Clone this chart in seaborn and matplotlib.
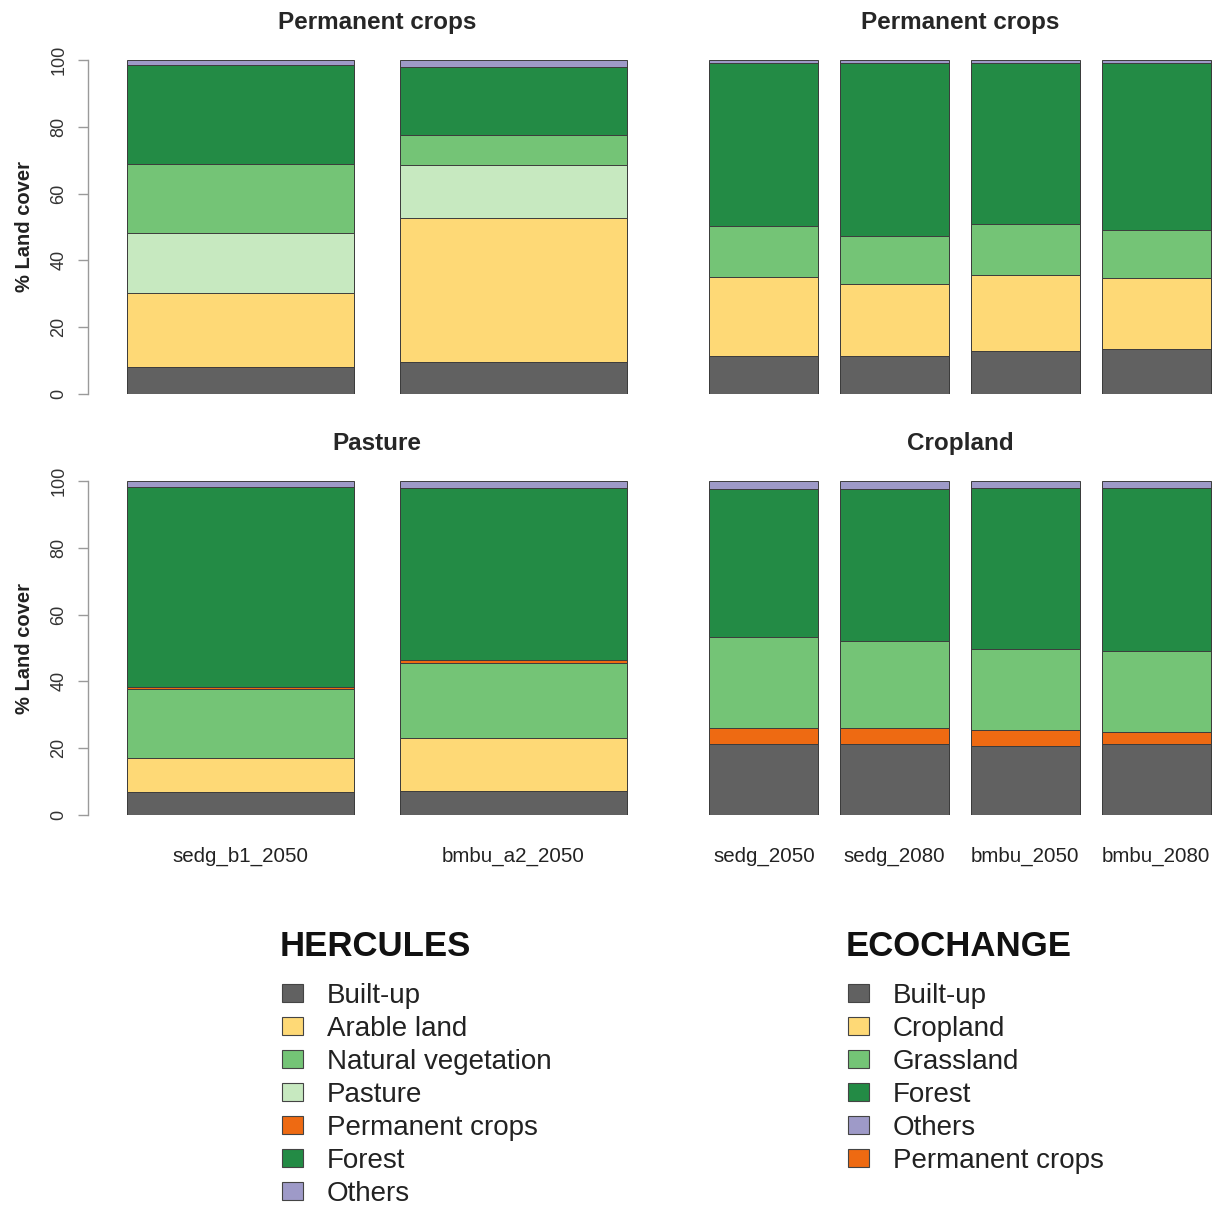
import matplotlib
matplotlib.use("Agg")
import matplotlib.pyplot as plt
from matplotlib.patches import Patch
import numpy as np
import pandas as pd
import seaborn as sns

# ---------------- data ----------------
herc_scenarios = ["sedg_b1_2050", "bmbu_a2_2050"]
eco_scenarios = ["sedg_2050", "sedg_2080", "bmbu_2050", "bmbu_2080"]

# HERCULES: land formerly under permanent crops
hpc_builtup = [8.0, 9.7]
hpc_arable = [22.2, 43.0]
hpc_pasture = [17.9, 16.0]
hpc_natveg = [20.8, 8.9]
hpc_permcrops = [0.0, 0.0]
hpc_forest = [29.6, 20.2]
hpc_others = [1.5, 2.2]

# HERCULES: land formerly under pasture
hpa_builtup = [6.9, 7.3]
hpa_arable = [10.3, 15.9]
hpa_pasture = [0.0, 0.0]
hpa_natveg = [20.6, 22.2]
hpa_permcrops = [0.6, 1.0]
hpa_forest = [59.8, 51.6]
hpa_others = [1.8, 2.0]

# ECOCHANGE: land formerly under permanent crops
epc_builtup = [11.4, 11.4, 12.8, 13.4]
epc_cropland = [23.7, 21.5, 22.8, 21.2]
epc_permcrops = [0.0, 0.0, 0.0, 0.0]
epc_grassland = [15.3, 14.3, 15.3, 14.4]
epc_forest = [48.7, 51.9, 48.2, 50.1]
epc_others = [0.9, 0.9, 0.9, 0.9]

# ECOCHANGE: land formerly under cropland
ecr_builtup = [21.2, 21.2, 20.8, 21.2]
ecr_cropland = [0.0, 0.0, 0.0, 0.0]
ecr_permcrops = [4.9, 4.7, 4.5, 3.7]
ecr_grassland = [27.1, 26.1, 24.4, 24.3]
ecr_forest = [44.3, 45.7, 48.3, 48.8]
ecr_others = [2.5, 2.3, 2.0, 2.0]

herc_legend = ["Built-up", "Arable land", "Natural vegetation", "Pasture",
               "Permanent crops", "Forest", "Others"]
eco_legend = ["Built-up", "Cropland", "Grassland", "Forest", "Others",
              "Permanent crops"]

colors = {
    "Built-up": "#616161",
    "Arable land": "#FED976",
    "Cropland": "#FED976",
    "Pasture": "#C7E9C0",
    "Natural vegetation": "#74C476",
    "Grassland": "#74C476",
    "Permanent crops": "#EE6A12",
    "Forest": "#238B45",
    "Others": "#9E9AC8",
}

# ---------------- style ----------------
sns.set_style("white")
plt.rcParams["font.family"] = ["Liberation Sans", "DejaVu Sans"]

W, H = 1220, 1207
fig = plt.figure(figsize=(W / 100, H / 100), dpi=100)

BAR_W = 1 / 1.2
EDGE = "#3c3c3c"
TITLE_SIZE = 17.5


def px_axes(left, top, right, bottom):
    return fig.add_axes([left / W, 1 - bottom / H, (right - left) / W, (bottom - top) / H])


def stacked(ax, scenarios, layers):
    """Stacked bars: draw cumulative totals from the top layer down."""
    cum = np.cumsum([vals for _, vals in layers], axis=0)
    for i in range(len(layers) - 1, -1, -1):
        name = layers[i][0]
        df = pd.DataFrame({"scenario": scenarios, "top": cum[i]})
        sns.barplot(data=df, x="scenario", y="top", order=scenarios,
                    color=colors[name], saturation=1, width=BAR_W,
                    edgecolor=EDGE, linewidth=0.7, errorbar=None, ax=ax)
    ax.set_ylim(0, 100)
    ax.set_xlabel("")
    ax.set_ylabel("")
    for s in ["top", "right", "bottom"]:
        ax.spines[s].set_visible(False)


def style_left(ax):
    ax.spines["left"].set_visible(True)
    ax.spines["left"].set_color("#9a9a9a")
    ax.spines["left"].set_linewidth(1.0)
    ax.spines["left"].set_bounds(0, 100)
    ax.set_yticks([0, 20, 40, 60, 80, 100])
    ax.tick_params(axis="y", direction="out", length=7, width=1.0,
                   color="#9a9a9a", labelsize=13, labelcolor="#333333",
                   pad=8, labelrotation=90, left=True)
    for lab in ax.get_yticklabels():
        lab.set_va("center")
    ax.set_ylabel("% Land cover", fontsize=14.5, fontweight="bold", color="#222222")
    ax.yaxis.set_label_coords(-0.093, 0.5)


def style_right(ax):
    ax.spines["left"].set_visible(False)
    ax.set_yticks([])


def xlabels(ax, show):
    ax.tick_params(axis="x", length=0, pad=23, labelsize=14.8,
                   labelcolor="#222222")
    if not show:
        ax.set_xticklabels([])


# top-left: HERCULES, permanent crops
ax1 = px_axes(88, 60, 666, 394)
stacked(ax1, herc_scenarios, [
    ("Built-up", hpc_builtup), ("Arable land", hpc_arable),
    ("Pasture", hpc_pasture), ("Natural vegetation", hpc_natveg),
    ("Permanent crops", hpc_permcrops), ("Forest", hpc_forest),
    ("Others", hpc_others)])
ax1.set_xlim(-0.56, 1.56)
style_left(ax1)
xlabels(ax1, False)
ax1.set_title("Permanent crops", fontsize=TITLE_SIZE, fontweight="bold", pad=22)

# top-right: ECOCHANGE, permanent crops
ax2 = px_axes(705, 60, 1215, 394)
stacked(ax2, eco_scenarios, [
    ("Built-up", epc_builtup), ("Cropland", epc_cropland),
    ("Permanent crops", epc_permcrops), ("Grassland", epc_grassland),
    ("Forest", epc_forest), ("Others", epc_others)])
ax2.set_xlim(-0.45, 3.45)
style_right(ax2)
xlabels(ax2, False)
ax2.set_title("Permanent crops", fontsize=TITLE_SIZE, fontweight="bold", pad=22)

# bottom-left: HERCULES, pasture
ax3 = px_axes(88, 481, 666, 815)
stacked(ax3, herc_scenarios, [
    ("Built-up", hpa_builtup), ("Arable land", hpa_arable),
    ("Pasture", hpa_pasture), ("Natural vegetation", hpa_natveg),
    ("Permanent crops", hpa_permcrops), ("Forest", hpa_forest),
    ("Others", hpa_others)])
ax3.set_xlim(-0.56, 1.56)
style_left(ax3)
xlabels(ax3, True)
ax3.set_title("Pasture", fontsize=TITLE_SIZE, fontweight="bold", pad=22)

# bottom-right: ECOCHANGE, cropland
ax4 = px_axes(705, 481, 1215, 815)
stacked(ax4, eco_scenarios, [
    ("Built-up", ecr_builtup), ("Cropland", ecr_cropland),
    ("Permanent crops", ecr_permcrops), ("Grassland", ecr_grassland),
    ("Forest", ecr_forest), ("Others", ecr_others)])
ax4.set_xlim(-0.45, 3.45)
style_right(ax4)
xlabels(ax4, True)
ax4.set_title("Cropland", fontsize=TITLE_SIZE, fontweight="bold", pad=22)


def legend(labels, title, x_px, title_y_px, items_top_px):
    fig.text(x_px / W, 1 - title_y_px / H, title, fontsize=25,
             fontweight="bold", ha="left", va="center", color="#111111")
    handles = [Patch(facecolor=colors[l], edgecolor="#444444", linewidth=0.8)
               for l in labels]
    lg = fig.legend(handles, labels, loc="upper left",
                    bbox_to_anchor=((x_px + 2) / W, 1 - items_top_px / H),
                    frameon=False, fontsize=20, borderpad=0, borderaxespad=0,
                    labelspacing=0.25, handlelength=0.76, handleheight=0.62,
                    handletextpad=0.85)
    for t in lg.get_texts():
        t.set_color("#222222")
    return lg


legend(herc_legend, "HERCULES", 280, 946, 983)
legend(eco_legend, "ECOCHANGE", 846, 946, 983)

fig.savefig("out.png", dpi=100, facecolor="white")
